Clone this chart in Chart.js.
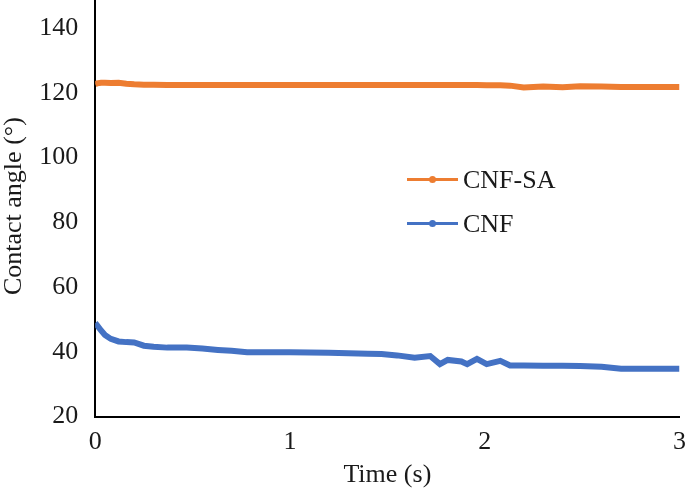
<!DOCTYPE html>
<html>
<head>
<meta charset="utf-8">
<script src="https://cdn.jsdelivr.net/npm/chart.js@4/dist/chart.umd.min.js"></script>
<style>
  html, body { margin: 0; padding: 0; background: #fff; }
  #wrap { position: relative; width: 685px; height: 495px; overflow: hidden; }
  #chart { position: absolute; left: -1px; top: -29px; }
  #legend { position: absolute; left: 407px; top: 165px; font-family: "Liberation Serif", "Times New Roman", serif; font-size: 26px; color: #1a1a1a; }
  .item { position: relative; height: 44px; }
  .swatch { position: absolute; left: 0; top: 13px; width: 51px; height: 3px; }
  .swatch i { position: absolute; left: 22px; top: -2px; width: 7px; height: 7px; border-radius: 50%; }
  .item span { position: absolute; left: 56px; top: 0; line-height: 30px; white-space: nowrap; }
</style>
</head>
<body>
<div id="wrap">
  <canvas id="chart" width="689" height="524"></canvas>
  <div id="legend"></div>
</div>
<script>
(function() {
  'use strict';

  var times = [0, 0.01, 0.03, 0.05, 0.08, 0.12, 0.16, 0.2, 0.25, 0.3, 0.37, 0.47, 0.55, 0.63, 0.7, 0.78, 0.9, 1.0, 1.1, 1.2, 1.3, 1.4, 1.47, 1.55, 1.64, 1.72, 1.77, 1.81, 1.88, 1.91, 1.96, 2.01, 2.08, 2.13, 2.2, 2.3, 2.4, 2.49, 2.6, 2.7, 2.8, 2.9, 3.0];
  var cnfSa = [122.6, 122.9, 123.1, 123.1, 123.0, 123.1, 122.8, 122.6, 122.5, 122.5, 122.4, 122.4, 122.4, 122.4, 122.4, 122.4, 122.4, 122.4, 122.4, 122.4, 122.4, 122.4, 122.4, 122.4, 122.4, 122.4, 122.4, 122.4, 122.4, 122.4, 122.4, 122.3, 122.3, 122.2, 121.6, 121.9, 121.7, 122.0, 121.9, 121.8, 121.8, 121.8, 121.8];
  var cnf = [48.9, 48.2, 46.6, 45.2, 44.0, 43.2, 43.0, 42.9, 41.9, 41.6, 41.3, 41.3, 41.0, 40.6, 40.3, 39.9, 39.9, 39.9, 39.8, 39.7, 39.6, 39.4, 39.3, 38.9, 38.2, 38.7, 36.2, 37.5, 37.0, 36.2, 37.8, 36.2, 37.2, 35.8, 35.8, 35.7, 35.7, 35.6, 35.4, 34.8, 34.8, 34.8, 34.8];
  var yTicks = [20, 40, 60, 80, 100, 120, 140];
  var xTicks = [0, 1, 2, 3];
  var seriesNames = ['CNF-SA', 'CNF'];
  var colors = ['#ED7D31', '#4472C4'];

  function points(values) {
    return times.map(function(t, i) { return { x: t, y: values[i] }; });
  }

  var font = { family: '"Liberation Serif", "Times New Roman", serif', size: 26 };

  new Chart(document.getElementById('chart'), {
    type: 'line',
    data: {
      datasets: [
        { label: seriesNames[0], data: points(cnfSa), borderColor: colors[0], backgroundColor: colors[0], borderWidth: 6, pointRadius: 0, tension: 0 },
        { label: seriesNames[1], data: points(cnf), borderColor: colors[1], backgroundColor: colors[1], borderWidth: 6, pointRadius: 0, tension: 0 }
      ]
    },
    options: {
      responsive: false,
      animation: false,
      layout: { padding: { top: 0, right: 0, left: 0, bottom: 4 } },
      plugins: { legend: { display: false }, tooltip: { enabled: false } },
      scales: {
        x: {
          type: 'linear', min: 0, max: 3,
          afterBuildTicks: function(axis) { axis.ticks = xTicks.map(function(v) { return { value: v }; }); },
          grid: { display: false },
          border: { display: true, color: '#000', width: 2 },
          ticks: { color: '#1a1a1a', font: font, padding: 2, maxRotation: 0 },
          title: { display: true, text: 'Time (s)', color: '#1a1a1a', font: font, padding: { top: 0, bottom: 0 } }
        },
        y: {
          type: 'linear', min: 20, max: 150,
          afterBuildTicks: function(axis) { axis.ticks = yTicks.map(function(v) { return { value: v }; }); },
          grid: { display: false },
          border: { display: true, color: '#000', width: 2 },
          ticks: { color: '#1a1a1a', font: font, padding: 9 },
          title: { display: true, text: 'Contact angle (°)', color: '#1a1a1a', font: font, padding: { top: 0, bottom: 0 } }
        }
      }
    }
  });

  document.getElementById('legend').innerHTML = seriesNames.map(function(name, i) {
    return '<div class="item"><div class="swatch" style="background:' + colors[i] + '"><i style="background:' + colors[i] + '"></i></div><span>' + name + '</span></div>';
  }).join('');
})();
</script>
</body>
</html>
